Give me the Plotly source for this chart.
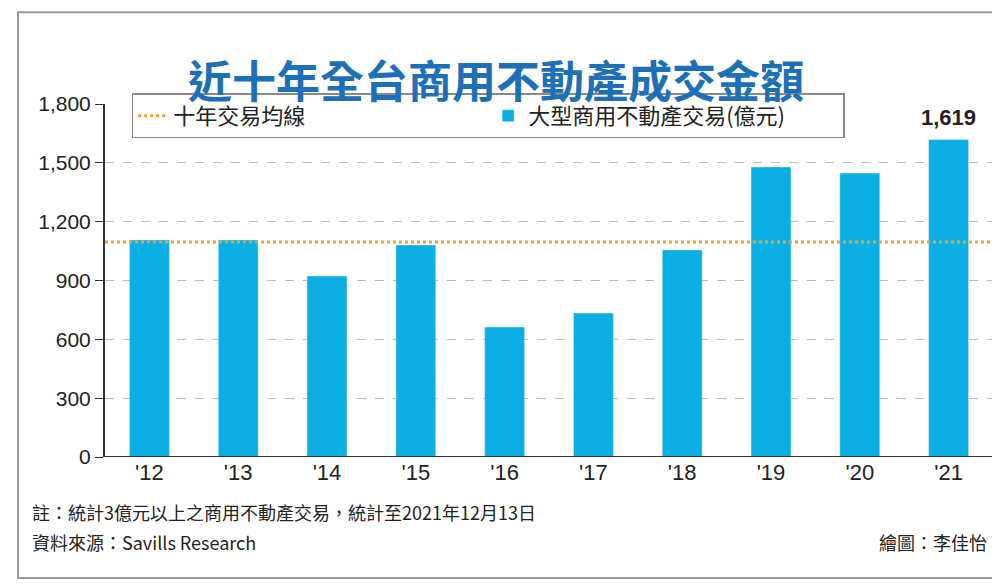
import plotly.graph_objects as go

years = ["'12","'13","'14","'15","'16","'17","'18","'19","'20","'21"]
values = [1107, 1107, 923, 1081, 663, 734, 1056, 1479, 1448, 1619]
avg = 1096
yticks = [0, 300, 600, 900, 1200, 1500, 1800]
ytick_text = ["0", "300", "600", "900", "1,200", "1,500", "1,800"]

F = "Noto Sans CJK TC"
fig = go.Figure()
fig.add_trace(go.Scatter(x=[None], y=[None], mode="lines", name="十年交易均線",
                         line=dict(color="#f0a030", width=3, dash="dot")))
fig.add_trace(go.Bar(x=years, y=values, name="大型商用不動產交易(億元)",
                     marker_color="#0aaee3", width=0.45))
fig.add_shape(type="line", xref="paper", x0=0, x1=1, y0=avg, y1=avg,
              line=dict(color="#f0a030", width=3, dash="dot"))
fig.add_annotation(x=9, y=values[-1], text="<b>1,619</b>", showarrow=False,
                   yshift=22, font=dict(size=22, color="#222", family="Liberation Sans"))
fig.add_annotation(xref="paper", yref="paper", x=0.44, y=1.167,
                   text="<b>近十年全台商用不動產成交金額</b>", showarrow=False,
                   font=dict(size=44, color="#1d6fb8", family=F))
fig.add_annotation(xref="paper", yref="paper", x=-0.085, xanchor="left", y=-0.198,
                   text="註：統計3億元以上之商用不動產交易，統計至2021年12月13日",
                   showarrow=False, font=dict(size=18, color="#222", family=F))
fig.add_annotation(xref="paper", yref="paper", x=-0.085, xanchor="left", y=-0.283,
                   text="資料來源：Savills Research",
                   showarrow=False, font=dict(size=18, color="#222", family=F))
fig.add_annotation(xref="paper", yref="paper", x=0.995, xanchor="right", y=-0.283,
                   text="繪圖：李佳怡",
                   showarrow=False, font=dict(size=18, color="#222", family=F))
fig.add_shape(type="rect", xref="paper", yref="paper", x0=-0.098, x1=1.006, y0=-0.343, y1=1.26,
              line=dict(color="#999", width=2), layer="below")
fig.update_layout(
    width=1000, height=588, paper_bgcolor="white", plot_bgcolor="white",
    margin=dict(l=97, r=15, t=96, b=139),
    font=dict(family=F, color="#222"),
    showlegend=True, bargap=0.5,
    legend=dict(orientation="h", x=0.03, y=1.03, xanchor="left", yanchor="top",
                bordercolor="#888", borderwidth=1.5, bgcolor="white",
                font=dict(size=22, family=F), entrywidth=310),
    xaxis=dict(type="category", tickfont=dict(size=22, family="Liberation Sans"),
               showline=False, ticks=""),
    yaxis=dict(range=[0, 1800], tickvals=yticks, ticktext=ytick_text,
               tickfont=dict(size=21, family="Liberation Sans"),
               showgrid=True, gridcolor="#bbb", griddash="dash", zeroline=False,
               showline=True, linecolor="#333", linewidth=2, ticks="outside",
               ticklen=8, tickcolor="#333"),
)
fig.add_shape(type="line", xref="paper", x0=0, x1=1, y0=0, y1=0, line=dict(color="#333", width=2))
fig.write_html("out.html")
